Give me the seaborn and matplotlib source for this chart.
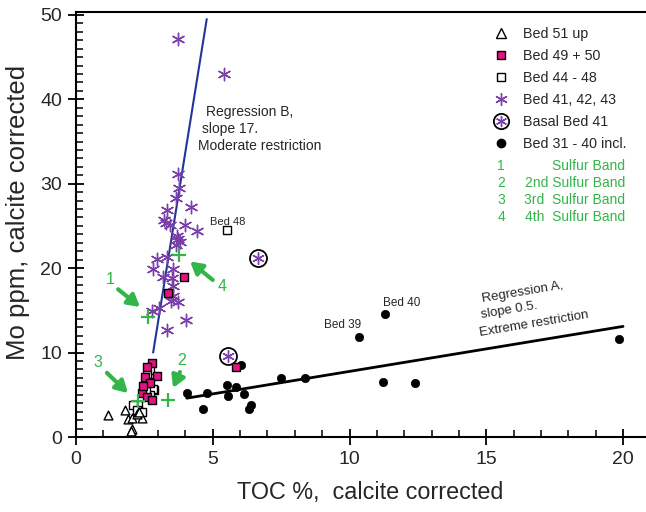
import matplotlib
matplotlib.use("Agg")
import matplotlib.pyplot as plt
import seaborn as sns
from matplotlib.lines import Line2D
from matplotlib.ticker import MultipleLocator

sns.set_style("white")
plt.rcParams['font.family'] = ['Liberation Sans', 'DejaVu Sans']

# ---------------- data ----------------
bed51_x = [1.18, 1.79, 1.91, 2.04, 2.42, 2.06, 2.02, 2.22, 2.30]
bed51_y = [2.60, 3.20, 2.10, 2.25, 2.20, 0.95, 0.70, 2.73, 3.00]

bed4950_x = [3.96, 3.35, 5.85, 2.77, 2.58, 2.52, 2.95, 2.71, 2.40, 2.58, 2.77, 2.45]
bed4950_y = [19.0, 17.1, 8.28, 8.75, 8.35, 7.16, 7.24, 6.37, 5.19, 4.79, 4.39, 6.00]

bed4448_x = [5.53, 2.71, 2.61, 2.68, 2.86, 2.83, 2.71, 2.28, 2.10, 2.30, 2.22, 2.40, 2.55]
bed4448_y = [24.5, 7.90, 7.40, 6.57, 5.58, 5.67, 4.99, 3.80, 3.80, 3.00, 3.20, 3.00, 5.50]

bed41_x = [3.74, 5.42, 3.72, 3.77, 3.65, 3.32, 4.20, 3.23, 3.44, 3.99, 4.41, 3.74, 3.80,
           3.65, 2.97, 3.32, 2.83, 3.19, 3.56, 3.50, 3.53, 3.56, 3.74, 3.47, 3.05, 2.77,
           4.02, 3.32, 3.30, 3.70]
bed41_y = [47.1, 43.0, 31.1, 29.5, 28.3, 26.9, 27.2, 25.7, 25.1, 25.1, 24.4, 23.4, 23.1,
           22.8, 21.1, 21.3, 19.9, 19.0, 19.9, 18.8, 17.9, 16.7, 16.0, 16.1, 15.3, 14.9,
           13.9, 12.7, 25.3, 23.8]

basal_x = [6.67, 5.57]
basal_y = [21.2, 9.62]

bed3140_x = [4.05, 4.80, 5.51, 5.85, 5.57, 6.15, 4.65, 6.39, 6.33, 7.50, 8.37, 6.02,
             10.35, 11.31, 11.24, 12.41, 19.84]
bed3140_y = [5.26, 5.26, 6.18, 5.97, 4.87, 5.11, 3.33, 3.75, 3.35, 6.97, 6.97, 8.55,
             11.80, 14.60, 6.53, 6.37, 11.64]

sulfur_x = [2.64, 3.38, 2.28, 3.77]
sulfur_y = [14.2, 4.39, 4.31, 21.5]
sulfur_num = ["1", "2", "3", "4"]
sulfur_label_x = [1.24, 3.88, 0.80, 5.34]
sulfur_label_y = [18.6, 9.1, 8.8, 17.8]
arrow_tail_x = [1.54, 3.80, 1.13, 5.00]
arrow_tail_y = [17.5, 7.7, 7.6, 18.6]
arrow_head_x = [2.34, 3.55, 1.90, 4.17]
arrow_head_y = [15.4, 5.8, 5.2, 20.8]

regA_x = [4.05, 20.0]
regA_y = [4.6, 13.1]
regB_x = [2.82, 4.78]
regB_y = [10.0, 49.5]

legend_labels = ["Bed 51 up", "Bed 49 + 50", "Bed 44 - 48", "Bed 41, 42, 43",
                 "Basal Bed 41", "Bed 31 - 40 incl."]
sulfur_legend = [("1", "Sulfur Band"), ("2", "2nd Sulfur Band"),
                 ("3", "3rd  Sulfur Band"), ("4", "4th  Sulfur Band")]
regB_lines = ["Regression B,", "slope 17.", "Moderate restriction"]
regA_lines = ["Regression A,", "slope 0.5.", "Extreme restriction"]

PURPLE = "#7A3FA8"
PINK = "#E0157F"
GREEN = "#33B54A"
BLUE = "#22359A"

asterisk = (6, 2, 0)

fig = plt.figure(figsize=(6.46, 5.12), dpi=100)
ax = fig.add_axes([76 / 646, 75 / 512, 570 / 646, 425.5 / 512])

# regression lines
sns.lineplot(x=regB_x, y=regB_y, ax=ax, color=BLUE, lw=1.5, zorder=2)
sns.lineplot(x=regA_x, y=regA_y, ax=ax, color="black", lw=2, zorder=2)

# scatter series
sns.scatterplot(x=bed3140_x, y=bed3140_y, ax=ax, marker="o", s=36, color="black",
                edgecolor="black", linewidth=0.5, zorder=3)
sns.scatterplot(x=bed41_x, y=bed41_y, ax=ax, marker=asterisk, s=80, color=PURPLE,
                linewidth=1.0, zorder=3)
sns.scatterplot(x=basal_x, y=basal_y, ax=ax, marker="o", s=150, facecolor="white",
                edgecolor="black", linewidth=1.3, zorder=3)
sns.scatterplot(x=basal_x, y=basal_y, ax=ax, marker=asterisk, s=70, color=PURPLE,
                linewidth=1.0, zorder=4)
sns.scatterplot(x=bed4448_x, y=bed4448_y, ax=ax, marker="s", s=30, facecolor="white",
                edgecolor="black", linewidth=1.0, zorder=3)
sns.scatterplot(x=bed4950_x, y=bed4950_y, ax=ax, marker="s", s=32, color=PINK,
                edgecolor="black", linewidth=1.0, zorder=4)
sns.scatterplot(x=bed51_x, y=bed51_y, ax=ax, marker="^", s=40, facecolor="white",
                edgecolor="black", linewidth=1.0, zorder=3)
sns.scatterplot(x=sulfur_x, y=sulfur_y, ax=ax, marker="+", s=110, color=GREEN,
                linewidth=1.6, zorder=5)

# sulfur arrows and numbers
for n, lx, ly, tx, ty, hx, hy in zip(sulfur_num, sulfur_label_x, sulfur_label_y,
                                      arrow_tail_x, arrow_tail_y, arrow_head_x, arrow_head_y):
    ax.annotate("", xy=(hx, hy), xytext=(tx, ty),
                arrowprops=dict(arrowstyle="-|>,head_length=0.7,head_width=0.4",
                                color=GREEN, lw=3, shrinkA=0, shrinkB=0), zorder=5)
    ax.text(lx, ly, n, color=GREEN, fontsize=11.5, ha="center", va="center")

# annotations
for txt, tx, ty in zip(regB_lines, [4.75, 4.60, 4.45], [38.45, 36.45, 34.45]):
    ax.text(tx, ty, txt, fontsize=10, ha="left", va="center")
ax.text(5.56, 24.9, "Bed 48", fontsize=8, ha="center", va="bottom")
ax.text(9.73, 12.5, "Bed 39", fontsize=8.5, ha="center", va="bottom")
ax.text(11.92, 15.2, "Bed 40", fontsize=8.5, ha="center", va="bottom")
for txt, tx, ty in zip(regA_lines, [14.87, 14.81, 14.77], [15.95, 14.05, 11.95]):
    ax.text(tx, ty, txt, fontsize=9.5, rotation=9.5, rotation_mode="anchor",
            ha="left", va="baseline")

# legend
handles = [
    Line2D([], [], ls="none", marker="^", ms=6.5, mfc="white", mec="black", mew=1.0),
    Line2D([], [], ls="none", marker="s", ms=5.8, mfc=PINK, mec="black", mew=1.0),
    Line2D([], [], ls="none", marker="s", ms=5.6, mfc="white", mec="black", mew=1.0),
    Line2D([], [], ls="none", marker=asterisk, ms=9, color=PURPLE, mew=1.0),
    (Line2D([], [], ls="none", marker="o", ms=11, mfc="white", mec="black", mew=1.3),
     Line2D([], [], ls="none", marker=asterisk, ms=8, color=PURPLE, mew=1.0)),
    Line2D([], [], ls="none", marker="o", ms=6, color="black"),
]
leg = ax.legend(handles, legend_labels, loc="upper left",
                bbox_to_anchor=(487 / 646, 1.0 - 19.5 / 512),
                bbox_transform=fig.transFigure, frameon=False, fontsize=10.3,
                handlelength=1.0, handletextpad=1.0, labelspacing=0.56, borderpad=0)

for i, (num, lab) in enumerate(sulfur_legend):
    ypx = 166.5 + i * 16.7
    fig.text(501 / 646, 1 - ypx / 512, num, color=GREEN, fontsize=10, ha="center", va="center")
    fig.text(625 / 646, 1 - ypx / 512, lab, color=GREEN, fontsize=10, ha="right", va="center")

# axes styling
ax.set_xlim(0, 20.84)
ax.set_ylim(0, 50.4)
ax.xaxis.set_major_locator(MultipleLocator(5))
ax.xaxis.set_minor_locator(MultipleLocator(1))
ax.yaxis.set_major_locator(MultipleLocator(10))
ax.yaxis.set_minor_locator(MultipleLocator(1))
ax.tick_params(axis="both", which="major", direction="inout", length=12, width=1.3,
               labelsize=14, color="black", pad=4)
ax.tick_params(axis="both", which="minor", direction="in", length=5, width=1.1, color="black")
ax.tick_params(axis="x", which="both", top=False, bottom=True)
ax.tick_params(axis="y", which="both", left=True, right=False)
for side in ["left", "bottom", "top"]:
    ax.spines[side].set_visible(True)
    ax.spines[side].set_color("black")
    ax.spines[side].set_linewidth(1.5)
ax.spines["right"].set_visible(False)

ax.set_xlabel("TOC %,  calcite corrected", fontsize=16.8)
ax.set_ylabel("Mo ppm, calcite corrected", fontsize=18.5)
ax.xaxis.set_label_coords(0.516, -44 / 425.5)
ax.yaxis.set_label_coords(-46 / 570, 0.527)

fig.savefig("out.png", dpi=100)
